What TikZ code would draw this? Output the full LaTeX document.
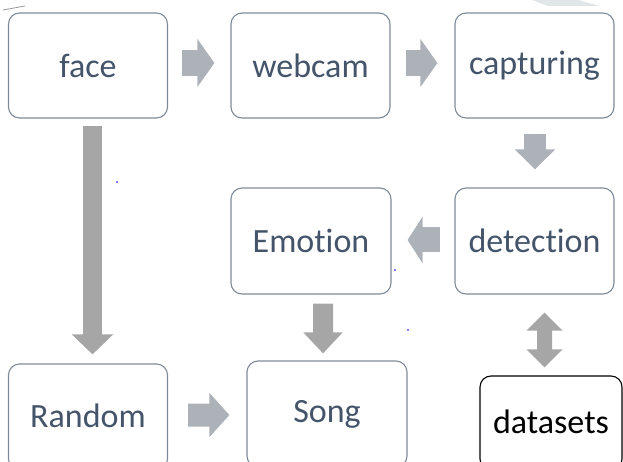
\documentclass[tikz,border=0pt]{standalone}
\usepackage{fontspec}
\setmainfont{Carlito}[Ligatures=NoCommon]
\usetikzlibrary{arrows.meta}
\definecolor{boxline}{HTML}{7F8A99}
\definecolor{boxtext}{HTML}{44546A}
\definecolor{arrA}{HTML}{ADB1B8}
\definecolor{arrB}{HTML}{A6A6A6}
\definecolor{faint}{HTML}{E1E6E9}
\tikzset{
  stepbox/.style={draw=boxline, line width=1.1bp, rounded corners=11bp, text=boxtext,
    minimum width=159bp, minimum height=105bp, inner sep=0pt, font=\fontsize{34bp}{40bp}\selectfont},
  darkbox/.style={stepbox, draw=black, text=black},
  blockarr/.style={line cap=butt},
}
\begin{document}
\begin{tikzpicture}[x=1bp,y=-1bp]
\useasboundingbox (0,0) rectangle (623,462);
% artifacts at the top
\draw[gray!80, line width=0.8bp] (3,10) -- (25,6);
\fill[faint] (532,0) -- (578,0) -- (600,6) -- (548,6) -- cycle;
% boxes
\node[stepbox] (face) at (88,65.5) {face};
\node[stepbox] (webcam) at (310.5,65.5) {webcam};
\node[stepbox] (capturing) at (534.5,65.5) {capturing};
\node[stepbox, minimum height=106bp] (detection) at (534.5,241) {detection};
\node[stepbox, minimum width=160bp, minimum height=106bp] (emotion) at (311,241) {Emotion};
\node[stepbox, minimum height=106bp] (random) at (88,417) {\raisebox{2bp}{Random}};
\node[stepbox, minimum width=160bp, minimum height=106bp] (song) at (327,414) {\raisebox{6bp}{Song}};
\node[darkbox, minimum width=142bp, minimum height=94bp] (datasets) at (551,423) {\raisebox{2bp}{datasets}};
% block arrows
\draw[blockarr, draw=arrA, fill=arrA, line width=26bp, -{Triangle[length=17bp,width=47bp]},
  shorten <=14bp, shorten >=16bp] ([yshift=2.5bp]face.east) -- ([yshift=2.5bp]webcam.west);
\draw[blockarr, draw=arrA, fill=arrA, line width=26bp, -{Triangle[length=17bp,width=47bp]},
  shorten <=15bp, shorten >=17bp] ([yshift=2.5bp]webcam.east) -- ([yshift=2.5bp]capturing.west);
\draw[blockarr, draw=arrA, fill=arrA, line width=22bp, -{Triangle[length=20bp,width=39bp]},
  shorten <=15bp, shorten >=18bp] ([xshift=0.5bp]capturing.south) -- ([xshift=0.5bp]detection.north);
\draw[blockarr, draw=arrA, fill=arrA, line width=25bp, -{Triangle[length=15bp,width=46bp]},
  shorten <=14bp, shorten >=16bp] ([yshift=1bp]detection.west) -- ([yshift=1bp]emotion.east);
\draw[blockarr, draw=arrB, fill=arrB, line width=20bp, -{Triangle[length=21bp,width=38bp]},
  shorten <=9bp, shorten >=7bp] ([xshift=12bp]emotion.south) -- ([xshift=-4bp]song.north);
\draw[blockarr, draw=arrB, fill=arrB, line width=19bp, -{Triangle[length=20bp,width=40bp]},
  shorten <=7bp, shorten >=9bp] ([xshift=4.5bp]face.south) -- ([xshift=4.5bp]random.north);
\draw[blockarr, draw=arrA, fill=arrA, line width=23bp, -{Triangle[length=20bp,width=43bp]},
  shorten <=20bp, shorten >=17bp] ([yshift=2bp]random.east) -- ([yshift=-1bp]song.west);
\draw[blockarr, draw=arrB, fill=arrB, line width=15bp, {Triangle[length=18bp,width=35bp]}-{Triangle[length=18bp,width=35bp]},
  shorten <=18bp, shorten >=8bp] ([xshift=10bp]detection.south) -- ([xshift=-6.5bp]datasets.north);
% stray dots
\fill[blue] (117,182) circle (0.9bp);
\fill[blue] (395,270) circle (0.9bp);
\fill[blue] (408,330) circle (0.9bp);
\end{tikzpicture}
\end{document}
